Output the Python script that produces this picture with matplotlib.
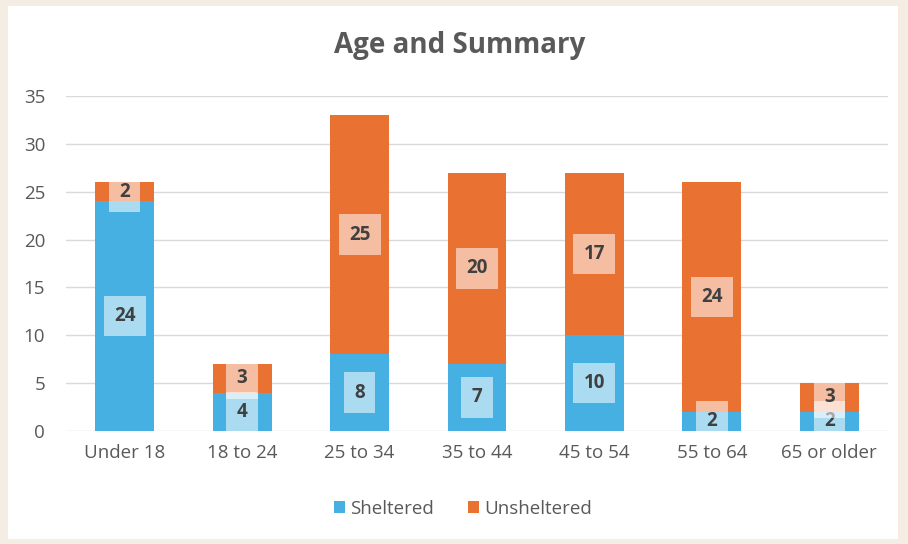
import matplotlib
matplotlib.use("Agg")
import matplotlib.pyplot as plt
from matplotlib.patches import Rectangle
import numpy as np

# Data
categories = ["Under 18", "18 to 24", "25 to 34", "35 to 44", "45 to 54", "55 to 64", "65 or older"]
sheltered = [24, 4, 8, 7, 10, 2, 2]
unsheltered = [2, 3, 25, 20, 17, 24, 3]

blue = "#45B0E1"
orange = "#E97132"
grey = "#595959"

plt.rcParams['font.family'] = ['Open Sans', 'DejaVu Sans']

fig = plt.figure(figsize=(9.08, 5.44), dpi=100)
fig.patch.set_facecolor("#F3EDE3")
# white chart panel, behind the axes
fig.patches.append(Rectangle((8 / 908, 5 / 544), 890 / 908, 533 / 544,
                             transform=fig.transFigure, facecolor="white",
                             edgecolor="none", zorder=-10))

ax = fig.add_axes([66 / 908, 1 - 431 / 544, 822 / 908, 335 / 544])
ax.set_facecolor("none")

x = np.arange(len(categories))
b1 = ax.bar(x, sheltered, width=0.5, color=blue, label="Sheltered", zorder=2)
b2 = ax.bar(x, unsheltered, width=0.5, bottom=sheltered, color=orange,
            label="Unsheltered", zorder=2)

for bars in (b1, b2):
    ax.bar_label(bars, label_type="center", fontsize=13.5, fontweight="bold",
                 color="#404040", zorder=4,
                 bbox=dict(boxstyle="square,pad=0.55", facecolor="white",
                           edgecolor="none", alpha=0.55))

ax.set_xlim(-0.5, len(categories) - 0.5)
ax.set_ylim(0, 35)
ax.set_yticks(range(0, 36, 5))
ax.set_xticks(x)
ax.set_xticklabels(categories)
ax.yaxis.grid(True, color="#D9D9D9", linewidth=1, zorder=0)
ax.set_axisbelow(True)
for s in ax.spines.values():
    s.set_visible(False)
ax.tick_params(axis="both", length=0, labelsize=13.5, colors=grey)
ax.tick_params(axis="x", pad=9)
ax.tick_params(axis="y", pad=15)

fig.text(460 / 908, 1 - 45 / 544, "Age and Summary", ha="center", va="center",
         fontsize=20, fontweight="bold", color=grey)

fig.legend(loc="center", bbox_to_anchor=(463 / 908, 1 - 509 / 544), ncol=2,
           frameon=False, fontsize=13.5, labelcolor=grey, handlelength=0.6,
           handleheight=0.6, handletextpad=0.3, columnspacing=1.8)

fig.savefig("out.png", dpi=100)
